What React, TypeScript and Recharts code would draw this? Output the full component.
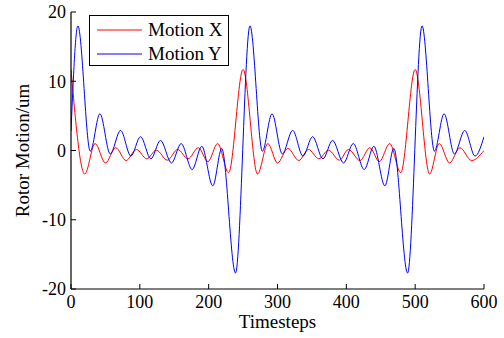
import { Label, Line, LineChart, XAxis, YAxis } from 'recharts'

// values, at the turning points of each curve
const motionXSteps = [
  0, 20, 35, 50, 65, 80, 95, 110, 124, 140, 155, 170, 185, 199, 213, 229, 250,
  271, 286, 300, 315, 331, 345, 360, 374, 390, 403, 420, 434, 448, 463, 479,
  500, 521, 535, 550, 565, 582, 600,
]
const motionXValues = [
  11.7, -3.4, 1.0, -1.8, 0.4, -1.45, 0.15, -1.2, 0.05, -1.4, 0.15, -1.2, 0.4,
  -1.6, 1.0, -3.2, 11.7, -3.4, 1.0, -1.8, 0.3, -1.45, 0.15, -1.2, 0.05, -1.4,
  0.15, -1.45, 0.4, -1.6, 1.0, -3.2, 11.7, -3.4, 1.0, -1.8, 0.4, -1.45, 0.0,
]

const motionYSteps = [
  0, 10, 28, 42, 57, 72, 87, 101, 116, 130, 146, 160, 176, 190, 206, 219, 239,
  260, 278, 292, 307, 322, 337, 351, 366, 380, 396, 410, 426, 440, 456, 469,
  489, 510, 528, 542, 557, 572, 587, 600,
]
const motionYValues = [
  2.8, 18.0, -0.1, 5.3, -0.5, 2.9, -0.8, 2.0, -1.2, 1.45, -1.8, 1.0, -2.75,
  0.6, -5.1, 0.3, -17.7, 18.0, -0.1, 5.3, -0.5, 2.9, -0.8, 2.0, -1.2, 1.45,
  -1.8, 1.0, -2.75, 0.6, -5.1, 0.3, -17.7, 18.0, -0.1, 5.3, -0.5, 2.9, -0.8,
  2.0,
]

const xTicks = [0, 100, 200, 300, 400, 500, 600]
const yTicks = [-20, -10, 0, 10, 20]

const SERIES = [
  { name: 'Motion X', color: '#ff0000', steps: motionXSteps, values: motionXValues },
  { name: 'Motion Y', color: '#0000ff', steps: motionYSteps, values: motionYValues },
]

const FONT = '"Liberation Serif", "Times New Roman", serif'
const TICK_LEN = 5

const BottomTick = ({ x, y, payload }: any) => (
  <g>
    <line x1={x} y1={y} x2={x} y2={y - TICK_LEN} stroke="#000" />
    <text x={x} y={y + 19} textAnchor="middle" fontFamily={FONT} fontSize={18} fill="#000">
      {payload.value}
    </text>
  </g>
)

const TopTick = ({ x, y }: any) => (
  <line x1={x} y1={y} x2={x} y2={y + TICK_LEN} stroke="#000" />
)

const LeftTick = ({ x, y, payload }: any) => (
  <g>
    <line x1={x} y1={y} x2={x + TICK_LEN} y2={y} stroke="#000" />
    <text x={x - 5} y={y} dy="0.35em" textAnchor="end" fontFamily={FONT} fontSize={18} fill="#000">
      {payload.value}
    </text>
  </g>
)

const RightTick = ({ x, y }: any) => (
  <line x1={x} y1={y} x2={x - TICK_LEN} y2={y} stroke="#000" />
)

export default function App() {
  const series = SERIES.map((s) => ({
    ...s,
    data: s.steps.map((t, i) => ({ t, v: s.values[i] })),
  }))

  return (
    <div
      style={{
        position: 'fixed',
        left: 0,
        top: 0,
        width: 504,
        height: 338,
        background: '#fff',
      }}
    >
      <LineChart width={504} height={338} margin={{ top: 12, right: 20, bottom: 0, left: 11 }}>
        <XAxis
          dataKey="t"
          type="number"
          domain={[0, 600]}
          ticks={xTicks}
          allowDataOverflow
          height={49}
          tickSize={0}
          tickMargin={0}
          tickLine={false}
          axisLine={{ stroke: '#000', strokeWidth: 1.2 }}
          tick={<BottomTick />}
          interval={0}
        >
          <Label
            value="Timesteps"
            position="insideBottom"
            offset={10}
            style={{ fontFamily: FONT, fontSize: 19, fill: '#000' }}
          />
        </XAxis>
        <XAxis
          xAxisId="top"
          orientation="top"
          type="number"
          domain={[0, 600]}
          ticks={xTicks}
          height={0}
          tickSize={0}
          tickMargin={0}
          tickLine={false}
          axisLine={{ stroke: '#000', strokeWidth: 1.2 }}
          tick={<TopTick />}
          interval={0}
        />
        <YAxis
          type="number"
          domain={[-20, 20]}
          ticks={yTicks}
          allowDataOverflow
          width={60}
          tickSize={0}
          tickMargin={0}
          tickLine={false}
          axisLine={{ stroke: '#000', strokeWidth: 1.2 }}
          tick={<LeftTick />}
          interval={0}
        >
          <Label
            value="Rotor Motion/um"
            angle={-90}
            position="insideLeft"
            offset={11}
            style={{ fontFamily: FONT, fontSize: 19, fill: '#000', textAnchor: 'middle' }}
          />
        </YAxis>
        <YAxis
          yAxisId="right"
          orientation="right"
          type="number"
          domain={[-20, 20]}
          ticks={yTicks}
          width={0}
          tickSize={0}
          tickMargin={0}
          tickLine={false}
          axisLine={{ stroke: '#000', strokeWidth: 1.2 }}
          tick={<RightTick />}
          interval={0}
        />
        {series.map((s) => (
          <Line
            key={s.name}
            data={s.data}
            dataKey="v"
            name={s.name}
            type="monotone"
            stroke={s.color}
            strokeWidth={1}
            dot={false}
            activeDot={false}
            isAnimationActive={false}
          />
        ))}
      </LineChart>

      <div
        style={{
          position: 'absolute',
          left: 89,
          top: 15,
          width: 140,
          height: 51,
          boxSizing: 'border-box',
          border: '1px solid #000',
          background: '#fff',
          fontFamily: FONT,
          fontSize: 19,
          color: '#000',
        }}
      >
        {SERIES.map((s, i) => (
          <div
            key={s.name}
            style={{
              position: 'absolute',
              left: 0,
              top: 2 + i * 24,
              height: 24,
              display: 'flex',
              alignItems: 'center',
              whiteSpace: 'nowrap',
            }}
          >
            <svg width={58} height={24}>
              <line x1={7} y1={12} x2={52} y2={12} stroke={s.color} strokeWidth={1} />
            </svg>
            <span>{s.name}</span>
          </div>
        ))}
      </div>
    </div>
  )
}
